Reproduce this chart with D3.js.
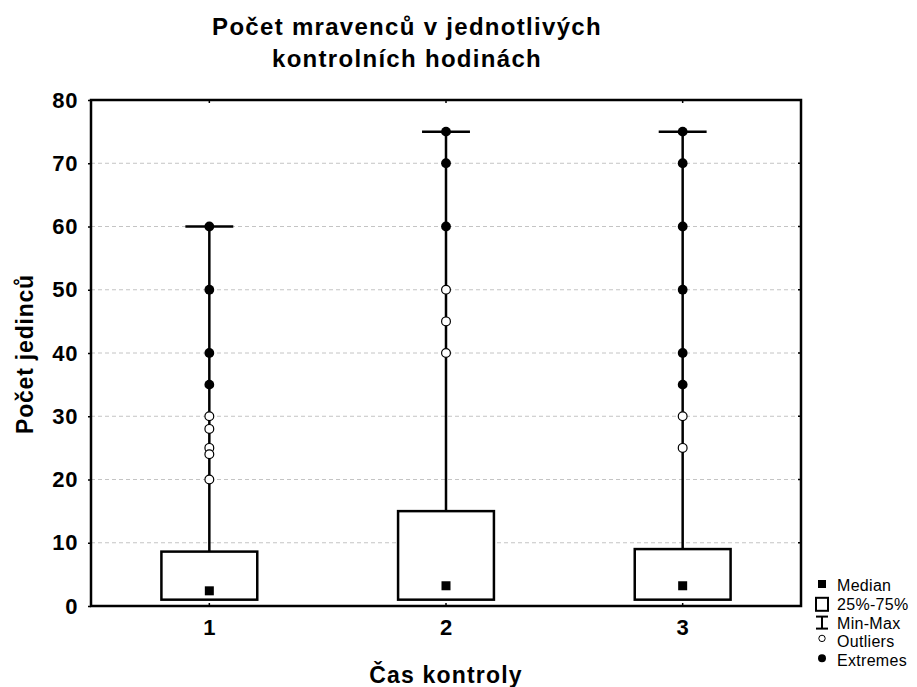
<!DOCTYPE html>
<meta charset="utf-8">
<style>
    body { margin: 0; background: #fff; }
    text { font-family: "Liberation Sans", Arial, sans-serif; fill: #000; }
</style>
<body>
<script src="https://d3js.org/d3.v7.min.js"></script>
<script>
    var width = 917
    var height = 687

    // data
    var categories = ['1', '2', '3']
    var q1 = [1, 1, 1]
    var q3 = [8.6, 15, 9]
    var medians = [2.4, 3.2, 3.2]
    var maxes = [60, 75, 75]
    var outliers = [[30, 28, 25, 24, 20], [50, 45, 40], [30, 25]]
    var extremes = [[60, 50, 40, 35], [75, 70, 60], [75, 70, 60, 50, 40, 35]]
    var yTicks = [0, 10, 20, 30, 40, 50, 60, 70, 80]
    var legendLabels = ['Median', '25%-75%', 'Min-Max', 'Outliers', 'Extremes']

    var plot = { left: 91, right: 801, top: 100, bottom: 606 }

    var x = d3.scaleBand()
        .domain(categories)
        .range([plot.left, plot.right])
        .paddingInner(0.595)
        .paddingOuter(0.2975)

    var y = d3.scaleLinear()
        .domain([0, 80])
        .range([plot.bottom, plot.top])

    var svg = d3.select('body').append('svg')
        .attr('width', width)
        .attr('height', height)

    // grid
    svg.append('g').selectAll('line')
        .data(yTicks.filter(function (d) { return d > 0 && d < 80 }))
        .enter().append('line')
        .attr('x1', plot.left).attr('x2', plot.right)
        .attr('y1', function (d) { return y(d) }).attr('y2', function (d) { return y(d) })
        .attr('stroke', '#c4c4c4').attr('stroke-width', 1)
        .attr('stroke-dasharray', '4,3')

    // left axis
    var yAxis = svg.append('g')
        .attr('transform', 'translate(' + plot.left + ',0)')
        .call(d3.axisLeft(y).tickValues(yTicks).tickSize(3).tickPadding(10))
    yAxis.select('.domain').remove()
    yAxis.selectAll('.tick line').attr('stroke', '#000').attr('stroke-width', 1.5)
    yAxis.selectAll('text')
        .style('font-family', '"Liberation Sans", Arial, sans-serif')
        .style('font-size', '22px').style('font-weight', 'bold')
        .style('letter-spacing', '0.6px')

    // right ticks
    svg.append('g').selectAll('line')
        .data(yTicks)
        .enter().append('line')
        .attr('x1', plot.right - 3).attr('x2', plot.right)
        .attr('y1', function (d) { return y(d) }).attr('y2', function (d) { return y(d) })
        .attr('stroke', '#000').attr('stroke-width', 1.5)

    // bottom axis
    var xAxis = svg.append('g')
        .attr('transform', 'translate(0,' + plot.bottom + ')')
        .call(d3.axisBottom(x).tickSize(0).tickPadding(13))
    xAxis.select('.domain').remove()
    xAxis.selectAll('text')
        .style('font-family', '"Liberation Sans", Arial, sans-serif')
        .style('font-size', '22px').style('font-weight', 'bold')

    // category ticks on top and bottom
    categories.forEach(function (c) {
        var cx = x(c) + x.bandwidth() / 2
        svg.append('line').attr('x1', cx).attr('x2', cx)
            .attr('y1', plot.bottom).attr('y2', plot.bottom - 3)
            .attr('stroke', '#000').attr('stroke-width', 1.5)
        svg.append('line').attr('x1', cx).attr('x2', cx)
            .attr('y1', plot.top).attr('y2', plot.top + 3)
            .attr('stroke', '#000').attr('stroke-width', 1.5)
    })

    // frame
    svg.append('rect')
        .attr('x', plot.left).attr('y', plot.top)
        .attr('width', plot.right - plot.left).attr('height', plot.bottom - plot.top)
        .attr('fill', 'none').attr('stroke', '#000').attr('stroke-width', 2.5)

    // boxes
    var groups = svg.append('g').selectAll('g')
        .data(categories)
        .enter().append('g')

    var bw = x.bandwidth()

    groups.append('line')
        .attr('x1', function (d) { return x(d) + bw / 2 })
        .attr('x2', function (d) { return x(d) + bw / 2 })
        .attr('y1', function (d, i) { return y(q3[i]) })
        .attr('y2', function (d, i) { return y(maxes[i]) })
        .attr('stroke', '#000').attr('stroke-width', 2.5)

    groups.append('line')
        .attr('x1', function (d) { return x(d) + bw / 4 })
        .attr('x2', function (d) { return x(d) + bw * 3 / 4 })
        .attr('y1', function (d, i) { return y(maxes[i]) })
        .attr('y2', function (d, i) { return y(maxes[i]) })
        .attr('stroke', '#000').attr('stroke-width', 2.5)

    groups.append('rect')
        .attr('x', function (d) { return x(d) })
        .attr('y', function (d, i) { return y(q3[i]) })
        .attr('width', bw)
        .attr('height', function (d, i) { return y(q1[i]) - y(q3[i]) })
        .attr('fill', '#fff').attr('stroke', '#000').attr('stroke-width', 2.5)

    groups.append('rect')
        .attr('x', function (d) { return x(d) + bw / 2 - 4.5 })
        .attr('y', function (d, i) { return y(medians[i]) - 4.5 })
        .attr('width', 9).attr('height', 9)
        .attr('fill', '#000')

    groups.each(function (d, i) {
        var g = d3.select(this)
        var cx = x(d) + bw / 2
        g.selectAll('circle.out')
            .data(outliers[i])
            .enter().append('circle')
            .attr('class', 'out')
            .attr('cx', cx).attr('cy', function (v) { return y(v) })
            .attr('r', 4.4)
            .attr('fill', '#fff').attr('stroke', '#000').attr('stroke-width', 1.2)
        g.selectAll('circle.ext')
            .data(extremes[i])
            .enter().append('circle')
            .attr('class', 'ext')
            .attr('cx', cx).attr('cy', function (v) { return y(v) })
            .attr('r', 4.9)
            .attr('fill', '#000')
    })

    // titles
    var title = svg.append('text')
        .attr('x', 407).attr('y', 35)
        .attr('text-anchor', 'middle')
        .style('font-size', '24px').style('font-weight', 'bold')
        .style('letter-spacing', '1.3px')
    title.append('tspan').attr('x', 407).text('Počet mravenců v jednotlivých')
    title.append('tspan').attr('x', 407).attr('dy', 32).text('kontrolních hodinách')

    svg.append('text')
        .attr('x', (plot.left + plot.right) / 2).attr('y', 683)
        .attr('text-anchor', 'middle')
        .style('font-size', '23px').style('font-weight', 'bold')
        .style('letter-spacing', '1.2px')
        .text('Čas kontroly')

    svg.append('text')
        .attr('transform', 'translate(33,' + 354 + ') rotate(-90)')
        .attr('text-anchor', 'middle')
        .style('font-size', '23px').style('font-weight', 'bold')
        .style('letter-spacing', '0.8px')
        .text('Počet jedinců')

    // legend
    var legend = svg.append('g').attr('transform', 'translate(822,585)')
    var rowH = 18.8
    legend.selectAll('text')
        .data(legendLabels)
        .enter().append('text')
        .attr('x', 15).attr('y', function (d, i) { return i * rowH + 6 })
        .style('font-size', '16px')
        .style('letter-spacing', '0.3px')
        .text(function (d) { return d })

    legend.append('rect').attr('x', -4).attr('y', -5).attr('width', 8).attr('height', 8).attr('fill', '#000')
    legend.append('rect').attr('x', -6).attr('y', rowH - 6).attr('width', 12).attr('height', 13)
        .attr('fill', 'none').attr('stroke', '#000').attr('stroke-width', 2)
    var mm = legend.append('g').attr('transform', 'translate(0,' + (2 * rowH) + ')')
    mm.append('line').attr('x1', -6).attr('x2', 6).attr('y1', -6).attr('y2', -6).attr('stroke', '#000').attr('stroke-width', 2)
    mm.append('line').attr('x1', -6).attr('x2', 6).attr('y1', 6).attr('y2', 6).attr('stroke', '#000').attr('stroke-width', 2)
    mm.append('line').attr('x1', 0).attr('x2', 0).attr('y1', -6).attr('y2', 6).attr('stroke', '#000').attr('stroke-width', 2)
    legend.append('circle').attr('cx', 0).attr('cy', 3 * rowH - 3).attr('r', 3.2)
        .attr('fill', '#fff').attr('stroke', '#000').attr('stroke-width', 1)
    legend.append('circle').attr('cx', 0).attr('cy', 4 * rowH - 2).attr('r', 4).attr('fill', '#000')
</script>
</body>
